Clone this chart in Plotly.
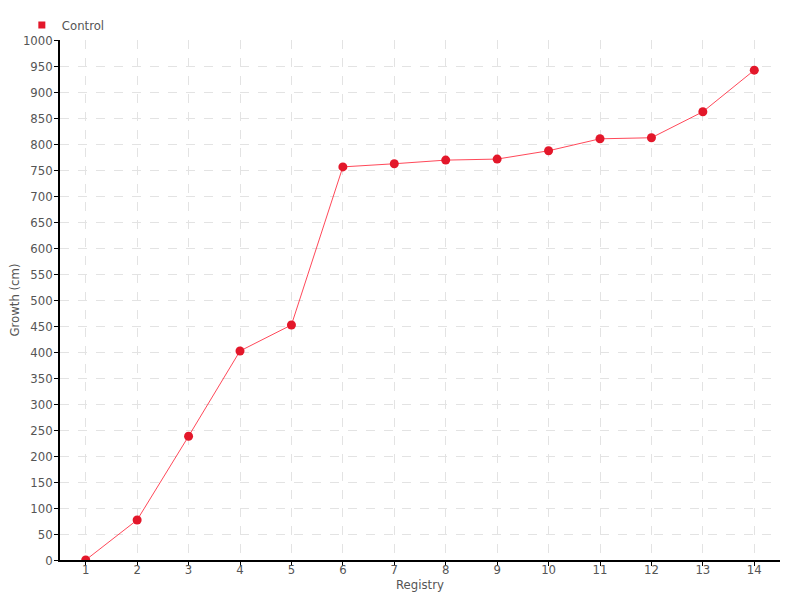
import plotly.graph_objects as go

registry = list(range(1, 15))
growth = [0, 77, 238, 402, 452, 756, 762, 769, 771, 787, 810, 812, 862, 942]
series_name = "Control"

FONT = "DejaVu Sans Condensed, Liberation Sans, sans-serif"
TXT = "#555555"

fig = go.Figure()
fig.add_trace(go.Scatter(
    x=registry, y=growth, mode="lines+markers", showlegend=False,
    line=dict(color="rgba(255,40,60,0.85)", width=1),
    marker=dict(color="#e3172a", size=9),
    name=series_name,
))
fig.add_trace(go.Scatter(
    x=[None], y=[None], mode="markers", name=series_name,
    marker=dict(color="#e3172a", size=7, symbol="square"),
))

fig.update_layout(
    width=800, height=600,
    paper_bgcolor="white", plot_bgcolor="white",
    margin=dict(l=60, r=20, t=40, b=40, autoexpand=False),
    font=dict(family=FONT, size=13, color=TXT),
    showlegend=True,
    legend=dict(x=-0.053, y=1.0, xanchor="left", yanchor="bottom", orientation="h",
                font=dict(family=FONT, size=13, color=TXT),
                itemwidth=30, tracegroupgap=0,
                bgcolor="rgba(0,0,0,0)"),
)
fig.update_xaxes(
    range=[0.5, 14.5], tickmode="array", tickvals=registry, ticktext=[str(v) for v in registry],
    showline=True, linecolor="black", linewidth=1.5,
    ticks="outside", ticklen=4, tickcolor="black", ticklabelstandoff=-7,
    showgrid=True, gridcolor="#e3e3e3", griddash="dash", gridwidth=1,
    zeroline=False, automargin=True,
    title=dict(text="Registry", standoff=0, font=dict(size=13, color=TXT)),
)
fig.update_yaxes(
    range=[0, 1000], dtick=50,
    showline=True, linecolor="black", linewidth=1.5,
    ticks="outside", ticklen=4, tickcolor="black", ticklabelstandoff=-1,
    showgrid=True, gridcolor="#e3e3e3", griddash="dash", gridwidth=1,
    zeroline=False, automargin=True,
    title=dict(text="Growth (cm)", standoff=0, font=dict(size=13, color=TXT)),
)
fig.write_html("out.html", config={"displayModeBar": False},
               post_script="document.body.style.margin='0px';")
